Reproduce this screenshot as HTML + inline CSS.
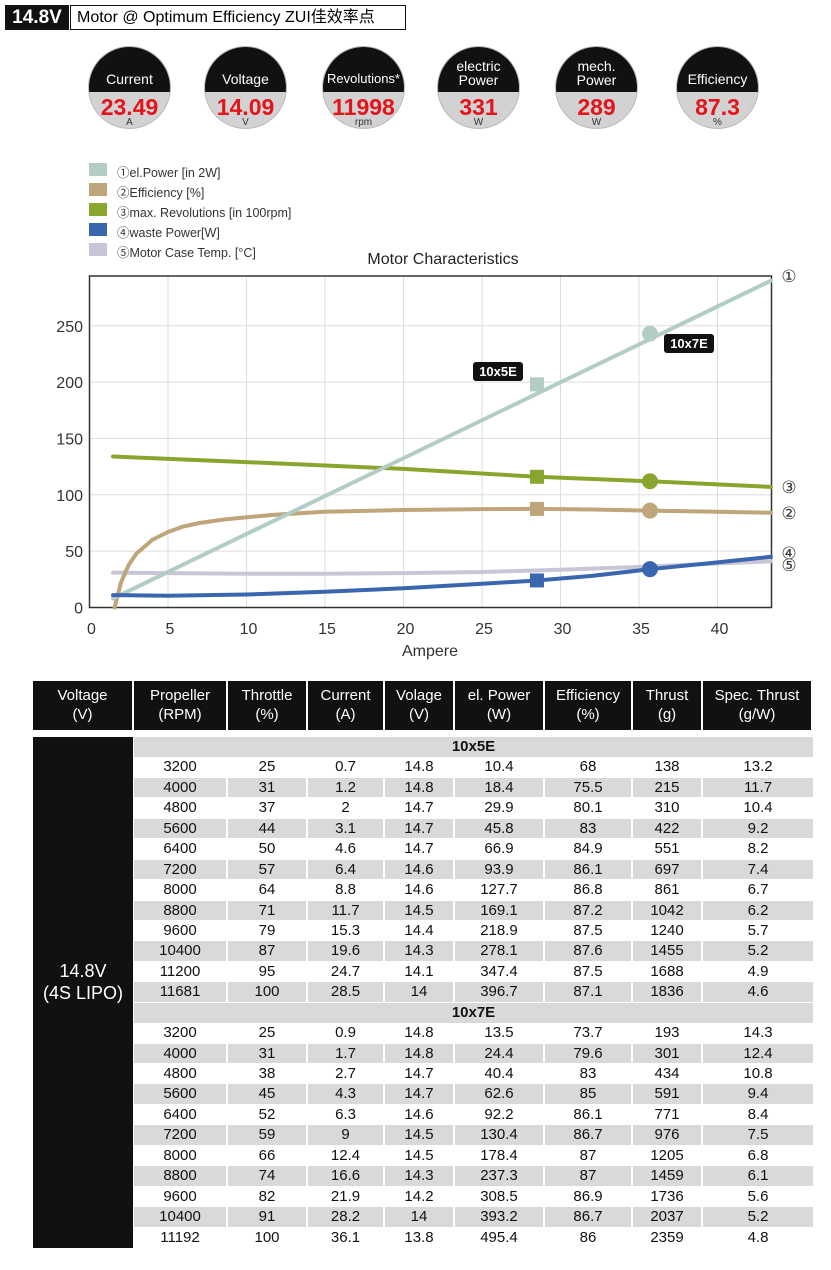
<!DOCTYPE html>
<html><head><meta charset="utf-8">
<style>
body{margin:0;width:831px;height:1270px;background:#fff;position:relative;overflow:hidden;font-family:"Liberation Sans","Noto Sans CJK SC",sans-serif;}
.abs{position:absolute;}
.circ{position:absolute;width:81px;height:81px;border-radius:50%;overflow:hidden;background:#d2d2d2;border:1px solid #bbb;}
.circ .top{position:absolute;left:0;top:0;width:81px;height:45px;background:#111;color:#fff;font-size:14px;text-align:center;}
.circ .val{position:absolute;left:0;top:48px;width:81px;text-align:center;color:#e3141c;font-weight:bold;font-size:23px;line-height:24px;}
.circ .unit{position:absolute;left:0;top:70px;width:81px;text-align:center;color:#333;font-size:10px;}
.leg{position:absolute;left:89px;width:18px;height:13px;}
.legt{position:absolute;left:117px;font-size:12.5px;color:#333;}
.cell{position:absolute;text-align:center;font-size:15px;color:#111;box-sizing:border-box;}
</style></head><body>
<div class="abs" style="left:5px;top:5px;width:64px;height:25px;background:#111;color:#fff;font-weight:bold;font-size:19px;line-height:25px;text-align:center;">14.8V</div>
<div class="abs" style="left:70px;top:5px;width:328px;height:23px;border:1px solid #111;font-size:16px;line-height:23px;padding-left:6px;box-sizing:content-box;white-space:nowrap;">Motor @ Optimum Efficiency ZUI佳效率点</div>

<div class="circ" style="left:88px;top:46px;"><div class="top" style="line-height:64px;">Current</div><div class="val">23.49</div><div class="unit">A</div></div>
<div class="circ" style="left:204px;top:46px;"><div class="top" style="line-height:64px;">Voltage</div><div class="val">14.09</div><div class="unit">V</div></div>
<div class="circ" style="left:322px;top:46px;"><div class="top" style="line-height:64px;font-size:13px;">Revolutions*</div><div class="val">11998</div><div class="unit">rpm</div></div>
<div class="circ" style="left:437px;top:46px;"><div class="top" style="padding-top:12px;height:33px;line-height:14px;">electric<br>Power</div><div class="val">331</div><div class="unit">W</div></div>
<div class="circ" style="left:555px;top:46px;"><div class="top" style="padding-top:12px;height:33px;line-height:14px;">mech.<br>Power</div><div class="val">289</div><div class="unit">W</div></div>
<div class="circ" style="left:676px;top:46px;"><div class="top" style="line-height:64px;">Efficiency</div><div class="val">87.3</div><div class="unit">%</div></div>

<div class="leg" style="top:163px;background:#b3cdc6"></div><div class="legt" style="top:162px">①el.Power [in 2W]</div>
<div class="leg" style="top:183px;background:#bfa57a"></div><div class="legt" style="top:182px">②Efficiency [%]</div>
<div class="leg" style="top:203px;background:#8aa52e"></div><div class="legt" style="top:202px">③max. Revolutions [in 100rpm]</div>
<div class="leg" style="top:223px;background:#3a66b0"></div><div class="legt" style="top:222px">④waste Power[W]</div>
<div class="leg" style="top:243px;background:#c8c6d6"></div><div class="legt" style="top:242px">⑤Motor Case Temp. [°C]</div>

<svg id="chart" class="abs" style="left:0;top:0" width="831" height="670"></svg>

<div id="table"></div>

<script>
const xTicks=[0,5,10,15,20,25,30,35,40];
const yTicks=[0,50,100,150,200,250];
const elPowerX=[1.5,43.4];
const elPowerY=[8,290];
const effX=[1.6,2,2.5,3,4,5,6,7,8.5,10,12,15,20,25,28.5,32,35.7,40,43.4];
const effY=[0,22,38,48,60,67,72,75,78,80,82.5,85,86.5,87.3,87.5,87,86,85,84];
const revX=[1.5,10,20,28.5,35.7,43.4];
const revY=[134,129,123,116,112,107];
const wasteX=[1.5,5,10,15,20,25,28.5,32,35.7,40,43.4];
const wasteY=[11,10.5,11.5,14,17,21,24,28,34,40,45];
const tempX=[1.5,5,10,15,20,25,30,35,40,43.4];
const tempY=[31,30.5,30,30,30.5,31.5,33.5,36,39,41];
const markX5=28.5, markX7=35.7;
const markEl=[198,243], markEff=[87.5,86], markRev=[116,112], markWaste=[24,34];

const NS="http://www.w3.org/2000/svg";
const svg=document.getElementById('chart');
const X0=89.5,PX=15.7,Y0=607.5,PY=1.127,RIGHT=771.5,TOP=276;
const sx=v=>X0+v*PX, sy=v=>Y0-v*PY;
function mk(tag,attrs,parent){const e=document.createElementNS(NS,tag);for(const k in attrs)e.setAttribute(k,attrs[k]);(parent||svg).appendChild(e);return e;}
let t=mk('text',{x:443,y:264,'text-anchor':'middle','font-size':16,fill:'#222','font-family':'Liberation Sans'});t.textContent='Motor Characteristics';


xTicks.forEach(v=>{if(v>0){const l=mk('line',{x1:sx(v),x2:sx(v),y1:TOP,y2:Y0,stroke:'#ddd','stroke-width':1});

}
const tt=mk('text',{x:sx(v)+2,y:634,'text-anchor':'middle','font-size':16,fill:'#333','font-family':'Liberation Sans'});tt.textContent=v;

});
yTicks.forEach(v=>{if(v>0){const l=mk('line',{x1:X0,x2:RIGHT,y1:sy(v),y2:sy(v),stroke:'#ddd','stroke-width':1});

}
const tt=mk('text',{x:83,y:sy(v)+6,'text-anchor':'end','font-size':16,fill:'#333','font-family':'Liberation Sans'});tt.textContent=v;

});
const fr=mk('rect',{x:X0,y:TOP,width:RIGHT-X0,height:Y0-TOP,fill:'none',stroke:'#333','stroke-width':1.5});


let xt=mk('text',{x:430,y:656,'text-anchor':'middle','font-size':16,fill:'#333','font-family':'Liberation Sans'});xt.textContent='Ampere';


function line(xs,ys,col,name){const d=xs.map((x,i)=>(i?'L':'M')+sx(x).toFixed(1)+','+sy(ys[i]).toFixed(1)).join(' ');const p=mk('path',{d:d,fill:'none',stroke:col,'stroke-width':4,'stroke-linejoin':'round','stroke-linecap':'round'});

}
line(tempX,tempY,'#c8c6d6','case-temp-line');
line(effX,effY,'#bfa57a','efficiency-line');
line(revX,revY,'#8aa52e','revolutions-line');
line(elPowerX,elPowerY,'#b3cdc6','el-power-line');
line(wasteX,wasteY,'#3a66b0','waste-power-line');
[[markEl,'#b3cdc6','el-power'],[markEff,'#bfa57a','efficiency'],[markRev,'#8aa52e','revolutions'],[markWaste,'#3a66b0','waste-power']].forEach(([m,c,n])=>{
const r=mk('rect',{x:sx(markX5)-7,y:sy(m[0])-7,width:14,height:14,fill:c});


const ci=mk('circle',{cx:sx(markX7),cy:sy(m[1]),r:8,fill:c});

});
[[473,362,'10x5E'],[664,334,'10x7E']].forEach(([x,y,s])=>{const g=mk('g',{});


mk('rect',{x:x,y:y,width:50,height:19,rx:3,fill:'#111'},g);const tx=mk('text',{x:x+25,y:y+14,'text-anchor':'middle','font-size':13,'font-weight':'bold',fill:'#fff','font-family':'Liberation Sans'},g);tx.textContent=s;});
[['①',282],['③',493],['②',519],['④',559],['⑤',571]].forEach(([s,y])=>{const tx=mk('text',{x:789,y:y,'text-anchor':'middle','font-size':17,fill:'#333','font-family':'DejaVu Sans'});tx.textContent=s;

});

// table
const colEdges=[33,134,228,308,385,455,545,633,703,813];
const headers=[['Voltage','(V)'],['Propeller','(RPM)'],['Throttle','(%)'],['Current','(A)'],['Volage','(V)'],['el. Power','(W)'],['Efficiency','(%)'],['Thrust','(g)'],['Spec. Thrust','(g/W)']];
const rows5=[[3200,25,0.7,14.8,10.4,68,138,13.2],[4000,31,1.2,14.8,18.4,75.5,215,11.7],[4800,37,2,14.7,29.9,80.1,310,10.4],[5600,44,3.1,14.7,45.8,83,422,9.2],[6400,50,4.6,14.7,66.9,84.9,551,8.2],[7200,57,6.4,14.6,93.9,86.1,697,7.4],[8000,64,8.8,14.6,127.7,86.8,861,6.7],[8800,71,11.7,14.5,169.1,87.2,1042,6.2],[9600,79,15.3,14.4,218.9,87.5,1240,5.7],[10400,87,19.6,14.3,278.1,87.6,1455,5.2],[11200,95,24.7,14.1,347.4,87.5,1688,4.9],[11681,100,28.5,14,396.7,87.1,1836,4.6]];
const rows7=[[3200,25,0.9,14.8,13.5,73.7,193,14.3],[4000,31,1.7,14.8,24.4,79.6,301,12.4],[4800,38,2.7,14.7,40.4,83,434,10.8],[5600,45,4.3,14.7,62.6,85,591,9.4],[6400,52,6.3,14.6,92.2,86.1,771,8.4],[7200,59,9,14.5,130.4,86.7,976,7.5],[8000,66,12.4,14.5,178.4,87,1205,6.8],[8800,74,16.6,14.3,237.3,87,1459,6.1],[9600,82,21.9,14.2,308.5,86.9,1736,5.6],[10400,91,28.2,14,393.2,86.7,2037,5.2],[11192,100,36.1,13.8,495.4,86,2359,4.8]];
const tb=document.getElementById('table');
function div(style,text,name){const d=document.createElement('div');d.className='cell';d.style.cssText=style;if(text!==undefined)d.innerHTML=text;


tb.appendChild(d);return d;}
headers.forEach((h,i)=>{const l=colEdges[i],w=colEdges[i+1]-l-2;div(`left:${l}px;top:681px;width:${w}px;height:49px;background:#111;color:#fff;line-height:19px;padding-top:5px;`,h[0]+'<br>'+h[1],'table-header-cell');});
const RH=20.44;let y=737;
div(`left:33px;top:737px;width:100px;height:511px;background:#111;color:#fff;font-size:18px;line-height:22px;padding-top:223px;`,'14.8V<br>(4S LIPO)','voltage-group-cell');
function section(name,rows){div(`left:134px;top:${y}px;width:679px;height:${RH}px;background:#d9d9d9;font-weight:bold;line-height:${RH}px;`,name,'section-header-row');y+=RH;
rows.forEach((r,ri)=>{const bg=ri%2?'#d9d9d9':'#fff';r.forEach((v,ci)=>{const l=colEdges[ci+1],w=colEdges[ci+2]-l-(ci<7?2:0);div(`left:${l}px;top:${y}px;width:${w}px;height:${RH-1}px;background:${bg};line-height:${RH}px;`,v,'table-cell');});y+=RH;});}
section('10x5E',rows5);section('10x7E',rows7);
</script>
</body></html>
